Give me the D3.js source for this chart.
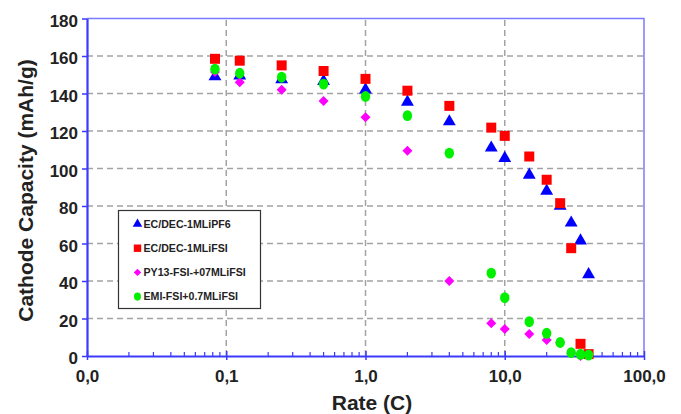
<!DOCTYPE html>
<html>
<head>
<meta charset="utf-8">
<script src="https://cdn.jsdelivr.net/npm/d3@7"></script>
<style>
  html, body { margin: 0; padding: 0; background: #fff; }
  svg { display: block; font-family: "Liberation Sans", Arial, sans-serif; }
</style>
</head>
<body>
<svg id="chart" width="681" height="414"></svg>
<script>
// Discharge rate (C) at which each capacity was measured
const rates = [0.083, 0.125, 0.25, 0.5, 1, 2, 4, 8, 10, 15, 20, 25, 30, 35, 40];

// Cathode capacity (mAh/g) per electrolyte
const ecDecLiPF6 = [149, 149.5, 147.5, 146.5, 142, 135.5, 125, 111, 105.5, 96.5, 88, 80, 71, 61.5, 43.5];
const ecDecLiFSI = [158.5, 157.5, 155, 152, 147.8, 141.5, 133.4, 121.8, 117.4, 106.4, 94, 81.5, 57.5, 6.5, 1];
const py13FSI = [151.5, 146, 142, 136, 127.3, 109.4, 40, 17.4, 14.4, 11.7, 8.5, 7, 1.5, 0];
const emiFSI = [153, 150.8, 148.7, 145, 138.4, 128.2, 108.2, 44.2, 31.1, 18.3, 12.1, 7.2, 1.8, 0.9, 0.5];

const seriesNames = ["EC/DEC-1MLiPF6", "EC/DEC-1MLiFSI", "PY13-FSI-+07MLiFSI", "EMI-FSI+0.7MLiFSI"];

// Axis ticks
const xTickValues = [0.01, 0.1, 1, 10, 100];
const xTickLabels = ["0,0", "0,1", "1,0", "10,0", "100,0"];
const yTickValues = [0, 20, 40, 60, 80, 100, 120, 140, 160, 180];

// Marker transforms: diamonds are squares turned 45°, circles slightly taller than wide
const series = [
  { name: seriesNames[0], values: ecDecLiPF6, color: "#0000ff", shape: d3.symbolTriangle, size: 72, extra: "" },
  { name: seriesNames[1], values: ecDecLiFSI, color: "#ff0000", shape: d3.symbolSquare, size: 100, extra: "" },
  { name: seriesNames[2], values: py13FSI, color: "#ff00ff", shape: d3.symbolSquare, size: 50, extra: " rotate(45)" },
  { name: seriesNames[3], values: emiFSI, color: "#00f000", shape: d3.symbolCircle, size: 80, extra: " scale(0.93,1.08)" }
];

const svg = d3.select("#chart");
const plot = { left: 87, right: 644, top: 18.5, bottom: 356 };

const x = d3.scaleLog().domain([0.01, 100]).range([plot.left, plot.right]);
const y = d3.scaleLinear().domain([0, 180]).range([plot.bottom, plot.top]);

const gridColor = "#a3a3a3";
const axisColor = "#3a3aff";

// Dashed grid
const grid = svg.append("g");
grid.selectAll("line.h")
  .data(yTickValues.filter(v => v > 0 && v < 180))
  .join("line")
  .attr("x1", plot.left).attr("x2", plot.right)
  .attr("y1", d => y(d)).attr("y2", d => y(d))
  .attr("stroke", gridColor).attr("stroke-width", 1.5).attr("stroke-dasharray", "6,4");
grid.selectAll("line.v")
  .data(xTickValues.filter(v => v > 0.01 && v < 100))
  .join("line")
  .attr("x1", d => x(d)).attr("x2", d => x(d))
  .attr("y1", plot.bottom).attr("y2", plot.top)
  .attr("stroke", gridColor).attr("stroke-width", 1.5).attr("stroke-dasharray", "6,4");

// Frame: top and right edges
svg.append("path")
  .attr("d", `M${plot.left},${plot.top}H${plot.right}V${plot.bottom}`)
  .attr("fill", "none").attr("stroke", "#7a7aff").attr("stroke-width", 1.5);

// Minor ticks on the rate axis (inward)
const minor = [];
for (let e = -2; e < 2; e++) {
  for (let m = 2; m <= 9; m++) minor.push(m * Math.pow(10, e));
}
svg.append("g").selectAll("line")
  .data(minor)
  .join("line")
  .attr("x1", d => x(d)).attr("x2", d => x(d))
  .attr("y1", plot.bottom).attr("y2", plot.bottom - 4)
  .attr("stroke", axisColor).attr("stroke-width", 1.2);

// Bottom axis
const xAxis = svg.append("g")
  .attr("transform", `translate(0,${plot.bottom})`)
  .call(d3.axisBottom(x).tickValues(xTickValues)
    .tickFormat((d, i) => xTickLabels[i]).tickSize(4).tickSizeOuter(0).tickPadding(10));
xAxis.select(".domain").attr("stroke", axisColor).attr("stroke-width", 2);
xAxis.selectAll(".tick line").attr("stroke", axisColor).attr("stroke-width", 1.5).attr("y1", -5);
xAxis.selectAll(".tick text")
  .attr("fill", "#222").attr("font-size", 17).attr("font-weight", "bold")
  .attr("font-family", "Liberation Sans, Arial, sans-serif");

// Left axis
const yAxis = svg.append("g")
  .attr("transform", `translate(${plot.left},0)`)
  .call(d3.axisLeft(y).tickValues(yTickValues).tickSize(5).tickSizeOuter(0).tickPadding(4));
yAxis.select(".domain").attr("stroke", axisColor).attr("stroke-width", 2.2);
yAxis.selectAll(".tick line").attr("stroke", axisColor).attr("stroke-width", 1.5);
yAxis.selectAll(".tick text")
  .attr("fill", "#222").attr("font-size", 17).attr("font-weight", "bold")
  .attr("dy", "0.45em")
  .attr("font-family", "Liberation Sans, Arial, sans-serif");

// Axis titles
svg.append("text")
  .attr("transform", "translate(33,190.5) rotate(-90)")
  .attr("text-anchor", "middle")
  .attr("font-size", 21).attr("font-weight", "bold").attr("fill", "#222")
  .text("Cathode Capacity (mAh/g)");
svg.append("text")
  .attr("x", 372).attr("y", 410)
  .attr("text-anchor", "middle")
  .attr("font-size", 21).attr("font-weight", "bold").attr("fill", "#222")
  .text("Rate (C)");

// Data markers
series.forEach(s => {
  svg.append("g").selectAll("path")
    .data(s.values.map((v, i) => [rates[i], v]))
    .join("path")
    .attr("transform", d => `translate(${x(d[0])},${y(d[1])})${s.extra}`)
    .attr("d", d3.symbol().type(s.shape).size(s.size))
    .attr("fill", s.color);
});

// Legend
const legend = svg.append("g").attr("transform", "translate(118.5,210.5)");
legend.append("rect")
  .attr("width", 142).attr("height", 98)
  .attr("fill", "#fff").attr("stroke", "#333").attr("stroke-width", 1.2);
series.forEach((s, i) => {
  const row = legend.append("g").attr("transform", `translate(0,${13.5 + i * 24.2})`);
  row.append("path")
    .attr("transform", `translate(19,0)${s.extra}`)
    .attr("d", d3.symbol().type(s.shape).size(s.size * 0.55))
    .attr("fill", s.color);
  row.append("text")
    .attr("x", 25).attr("y", 0).attr("dy", "0.36em")
    .attr("font-size", 10.6).attr("font-weight", "bold").attr("fill", "#222")
    .text(s.name);
});
</script>
</body>
</html>
